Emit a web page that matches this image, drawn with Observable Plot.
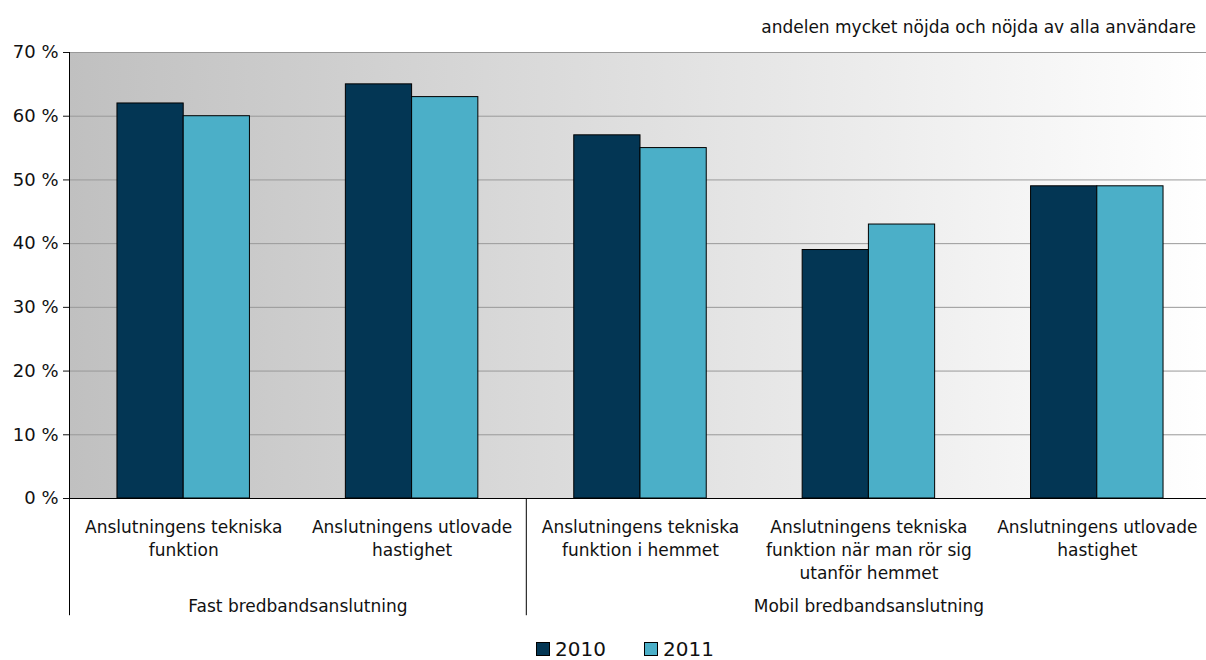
<!DOCTYPE html>
<html>
<head>
<meta charset="utf-8">
<script src="https://cdn.jsdelivr.net/npm/d3@7"></script>
<script src="https://cdn.jsdelivr.net/npm/@observablehq/plot@0.6"></script>
<style>
  body { margin: 0; background: #fff; font-family: Verdana, "DejaVu Sans", sans-serif; color: #111; overflow: hidden; }
  #subtitle { height: 40px; box-sizing: border-box; padding-top: 18px; padding-right: 10px; text-align: right; font-size: 17px; line-height: 18px; }
  #legend { height: 35px; box-sizing: border-box; padding-top: 12px; display: flex; justify-content: center; align-items: center; font-size: 20px; line-height: 22px; padding-left: 44px; }
  .item { display: flex; align-items: center; margin: 0 19px; height: 22px; }
  .sw { width: 12px; height: 12px; border: 1px solid #000; margin-right: 5px; }
</style>
</head>
<body>
<svg width="0" height="0" style="position:absolute">
  <defs>
    <linearGradient id="bg" x1="0" x2="1" y1="0" y2="0">
      <stop offset="0" stop-color="#c0c0c0"/>
      <stop offset="1" stop-color="#ffffff"/>
    </linearGradient>
  </defs>
</svg>
<div id="subtitle">andelen mycket nöjda och nöjda av alla användare</div>
<div id="chart"></div>
<div id="legend"></div>
<script>
const categories = [
  "Anslutningens tekniska\nfunktion",
  "Anslutningens utlovade\nhastighet",
  "Anslutningens tekniska\nfunktion i hemmet",
  "Anslutningens tekniska\nfunktion när man rör sig\nutanför hemmet",
  "Anslutningens utlovade\nhastighet"
];
const groups = ["Fast bredbandsanslutning", "Mobil bredbandsanslutning"];
const groupOfCategory = [0, 0, 1, 1, 1];
const years = ["2010", "2011"];
const values2010 = [62, 65, 57, 39, 49];
const values2011 = [60, 63, 55, 43, 49];
const yTicks = [0, 10, 20, 30, 40, 50, 60, 70];
const colors = ["#033654", "#4bafc8"];

const data = [];
categories.forEach((c, i) => {
  data.push({i, year: years[0], value: values2010[i]});
  data.push({i, year: years[1], value: values2011[i]});
});

const xDomain = [-0.5, categories.length - 0.5];
const barW = 0.29;
const groupInfo = groups.map((g, gi) => {
  const idx = groupOfCategory.map((v, i) => v === gi ? i : -1).filter(i => i >= 0);
  return {name: g, start: idx[0] - 0.5, center: (idx[0] + idx[idx.length - 1]) / 2};
});
const sepBottom = -18.4;

const chart = Plot.plot({
  width: 1206,
  height: 585,
  marginTop: 12,
  marginBottom: 127,
  marginLeft: 69,
  marginRight: -5,
  style: {fontFamily: "Verdana, 'DejaVu Sans', sans-serif", fontSize: "17px", color: "#111", background: "transparent", overflow: "visible"},
  x: {domain: xDomain, axis: null},
  y: {domain: [0, 70]},
  color: {domain: years, range: colors},
  marks: [
    Plot.rect([0], {x1: () => xDomain[0], x2: () => xDomain[1], y1: () => 0, y2: () => 70, fill: "url(#bg)"}),
    Plot.ruleY(yTicks.slice(1), {stroke: "#999", strokeWidth: 1}),
    Plot.rectY(data, {
      x1: d => d.year === years[0] ? d.i - barW : d.i,
      x2: d => d.year === years[0] ? d.i : d.i + barW,
      y: "value",
      fill: "year",
      stroke: "#000",
      strokeWidth: 1
    }),
    Plot.ruleY([0], {stroke: "#000"}),
    Plot.ruleX([xDomain[0]], {y1: () => 0, y2: () => 70, stroke: "#000"}),
    Plot.ruleX(groupInfo, {x: "start", y1: () => 0, y2: () => sepBottom, stroke: "#000"}),
    Plot.axisY({ticks: yTicks, tickFormat: d => d + " %", tickSize: 6, tickPadding: 5, fontSize: 18, label: null}),
    Plot.text(categories, {x: (d, i) => i, y: () => 0, text: d => d, lineAnchor: "top", dy: 18, lineHeight: 1.35, fontSize: 17, fill: "#111"}),
    Plot.text(groupInfo, {x: "center", y: () => 0, text: "name", lineAnchor: "middle", dy: 108, fontSize: 17, fill: "#111"})
  ]
});
document.getElementById("chart").appendChild(chart);

const legend = document.getElementById("legend");
years.forEach((y, k) => {
  const item = document.createElement("div");
  item.className = "item";
  const sw = document.createElement("div");
  sw.className = "sw";
  sw.style.background = colors[k];
  const t = document.createElement("span");
  t.textContent = y;
  item.appendChild(sw);
  item.appendChild(t);
  legend.appendChild(item);
});
</script>
</body>
</html>
